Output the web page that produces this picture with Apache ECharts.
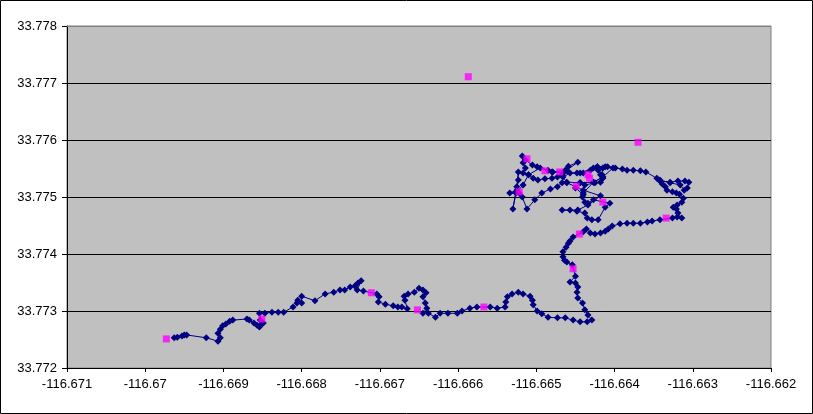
<!DOCTYPE html>
<html>
<head>
<meta charset="utf-8">
<script src="https://cdn.jsdelivr.net/npm/echarts@6/dist/echarts.min.js"></script>
<style>
html,body{margin:0;padding:0;background:#fff;}
#chart{width:813px;height:414px;}
</style>
</head>
<body>
<div id="chart"></div>
<script>
// X axis (longitude) ticks and Y axis (latitude) ticks
const xTicks = [-116.671, -116.670, -116.669, -116.668, -116.667, -116.666, -116.665, -116.664, -116.663, -116.662];
const yTicks = [33.772, 33.773, 33.774, 33.775, 33.776, 33.777, 33.778];

// GPS track (navy line with diamond markers)
const trackLon = [
-116.66963,-116.66959,-116.66953,-116.66950,-116.66947,-116.66922,-116.66907,-116.66904,-116.66907,-116.66904,
-116.66901,-116.66897,-116.66892,-116.66888,-116.66870,-116.66867,-116.66861,-116.66857,-116.66854,-116.66851,
-116.66849,-116.66853,-116.66854,-116.66847,-116.66838,-116.66830,-116.66823,-116.66811,-116.66806,-116.66805,
-116.66800,-116.66800,-116.66783,-116.66770,-116.66759,-116.66751,-116.66745,-116.66738,-116.66732,-116.66728,
-116.66724,-116.66729,-116.66721,-116.66704,-116.66701,-116.66702,-116.66693,-116.66683,-116.66677,-116.66672,
-116.66665,-116.66668,-116.66669,-116.66664,-116.66656,-116.66650,-116.66645,-116.66641,-116.66645,-116.66642,
-116.66640,-116.66645,-116.66638,-116.66629,-116.66623,-116.66613,-116.66601,-116.66595,-116.66585,-116.66576,
-116.66559,-116.66550,-116.66540,-116.66539,-116.66537,-116.66531,-116.66523,-116.66517,-116.66508,-116.66505,
-116.66504,-116.66499,-116.66493,-116.66485,-116.66473,-116.66463,-116.66453,-116.66444,-116.66435,-116.66429,
-116.66434,-116.66438,-116.66441,-116.66447,-116.66448,-116.66447,-116.66450,-116.66457,-116.66450,-116.66454,
-116.66461,-116.66464,-116.66466,-116.66466,-116.66462,-116.66459,-116.66457,-116.66453,-116.66440,-116.66436,
-116.66431,-116.66425,-116.66418,-116.66412,-116.66408,-116.66403,-116.66393,-116.66384,-116.66376,-116.66367,
-116.66358,-116.66352,-116.66342,-116.66326,-116.66320,-116.66314,-116.66319,-116.66321,-116.66325,-116.66320,
-116.66314,-116.66312,-116.66317,-116.66321,-116.66326,-116.66333,-116.66335,-116.66339,-116.66342,-116.66329,
-116.66319,-116.66310,-116.66305,-116.66307,-116.66311,-116.66316,-116.66329,-116.66342,-116.66346,-116.66360,
-116.66367,-116.66376,-116.66384,-116.66390,-116.66399,-116.66409,-116.66415,-116.66421,-116.66416,-116.66415,
-116.66418,-116.66425,-116.66438,-116.66444,-116.66461,-116.66466,-116.66457,-116.66444,-116.66427,-116.66422,
-116.66412,-116.66418,-116.66415,-116.66427,-116.66440,-116.66441,-116.66438,-116.66434,-116.66427,-116.66406,
-116.66412,-116.66421,-116.66429,-116.66435,-116.66438,-116.66448,-116.66457,-116.66467,-116.66447,-116.66434,
-116.66418,-116.66440,-116.66461,-116.66467,-116.66473,-116.66482,-116.66493,-116.66502,-116.66512,-116.66518,
-116.66522,-116.66534,-116.66525,-116.66523,-116.66523,-116.66525,-116.66530,-116.66526,-116.66517,-116.66510,
-116.66517,-116.66514,-116.66517,-116.66518,-116.66514,-116.66505,-116.66499,-116.66485,-116.66480,-116.66463,
-116.66459,-116.66447,-116.66461,-116.66467,-116.66473,-116.66480,-116.66489,-116.66498,-116.66504,-116.66510,
-116.66495,-116.66479,-116.66466,-116.66448,-116.66440,-116.66431,-116.66422,-116.66402,-116.66415,-116.66427,
-116.66444,-116.66450,-116.66440
];
const trackLat = [
33.77253,33.77254,33.77256,33.77258,33.77258,33.77253,33.77247,33.77253,33.77261,33.77268,
33.77274,33.77277,33.77282,33.77284,33.77286,33.77284,33.77279,33.77275,33.77272,33.77277,
33.77279,33.77284,33.77296,33.77296,33.77298,33.77298,33.77298,33.77307,33.77314,33.77319,
33.77314,33.77326,33.77318,33.77330,33.77333,33.77337,33.77337,33.77342,33.77344,33.77349,
33.77353,33.77337,33.77335,33.77330,33.77325,33.77316,33.77312,33.77309,33.77307,33.77307,
33.77304,33.77319,33.77326,33.77330,33.77333,33.77340,33.77337,33.77332,33.77325,33.77314,
33.77305,33.77296,33.77296,33.77289,33.77296,33.77296,33.77296,33.77300,33.77305,33.77307,
33.77307,33.77305,33.77307,33.77316,33.77325,33.77330,33.77333,33.77330,33.77326,33.77319,
33.77311,33.77300,33.77295,33.77289,33.77288,33.77288,33.77284,33.77281,33.77281,33.77284,
33.77293,33.77302,33.77314,33.77323,33.77333,33.77342,33.77349,33.77351,33.77361,33.77381,
33.77386,33.77389,33.77395,33.77404,33.77412,33.77419,33.77423,33.77430,33.77439,33.77444,
33.77437,33.77435,33.77437,33.77440,33.77444,33.77449,33.77453,33.77454,33.77454,33.77454,
33.77456,33.77458,33.77460,33.77463,33.77465,33.77463,33.77472,33.77479,33.77482,33.77486,
33.77491,33.77498,33.77505,33.77507,33.77509,33.77512,33.77518,33.77523,33.77528,33.77526,
33.77528,33.77528,33.77526,33.77516,33.77512,33.77521,33.77525,33.77530,33.77533,33.77544,
33.77546,33.77547,33.77547,33.77549,33.77551,33.77553,33.77551,33.77547,33.77539,33.77533,
33.77526,33.77525,33.77521,33.77525,33.77526,33.77535,33.77542,33.77542,33.77551,33.77553,
33.77553,33.77539,33.77535,33.77526,33.77507,33.77500,33.77491,33.77489,33.77495,33.77489,
33.77482,33.77460,33.77460,33.77463,33.77472,33.77475,33.77477,33.77477,33.77477,33.77486,
33.77502,33.77512,33.77525,33.77525,33.77518,33.77514,33.77507,33.77495,33.77479,33.77500,
33.77507,33.77507,33.77512,33.77530,33.77544,33.77518,33.77479,33.77507,33.77521,33.77539,
33.77542,33.77551,33.77560,33.77572,33.77565,33.77556,33.77553,33.77547,33.77544,33.77547,
33.77554,33.77561,33.77547,33.77539,33.77535,33.77533,33.77532,33.77530,33.77533,33.77539,
33.77551,33.77544,33.77542,33.77542,33.77542,33.77547,33.77553,33.77551,33.77535,33.77526,
33.77525,33.77516,33.77504
];

// Waypoints (magenta squares)
const wayLon = [-116.66973,-116.66851,-116.66711,-116.66652,-116.66567,-116.66453,-116.66445,-116.66334,-116.66415,
-116.66449,-116.66432,-116.66434,-116.66470,-116.66489,-116.66512,-116.66522,-116.66587,-116.66370];
const wayLat = [33.77251,33.77286,33.77332,33.77302,33.77307,33.77374,33.77435,33.77463,33.77491,
33.77519,33.77533,33.77539,33.77544,33.77546,33.77567,33.77509,33.77711,33.77596];

const trackData = trackLon.map((x, i) => [x, trackLat[i]]);
const wayData = wayLon.map((x, i) => [x, wayLat[i]]);

const chart = echarts.init(document.getElementById('chart'), null, {renderer: 'canvas'});
const font = {fontFamily: 'Liberation Sans, Arial, sans-serif', fontSize: 13, color: '#000'};
chart.setOption({
  animation: false,
  backgroundColor: '#fff',
  graphic: [{
    type: 'rect', silent: true, z: 100,
    shape: {x: 0.5, y: 0.5, width: 812, height: 413},
    style: {fill: 'none', stroke: '#000', lineWidth: 1}
  }, {
    type: 'line', silent: true, z: 100,
    shape: {x1: 67, y1: 26.5, x2: 771, y2: 26.5},
    style: {stroke: '#808080', lineWidth: 1}
  }],
  grid: {
    left: 67, right: 42, top: 26, bottom: 46,
    show: true, backgroundColor: '#C0C0C0', borderColor: '#808080', borderWidth: 1
  },
  xAxis: {
    type: 'value',
    min: xTicks[0], max: xTicks[xTicks.length - 1], interval: 0.001,
    axisLine: {show: true, onZero: false, lineStyle: {color: '#000', width: 1}},
    axisTick: {show: true, inside: false, length: 4, lineStyle: {color: '#000'}},
    axisLabel: Object.assign({margin: 10, formatter: v => String(+(+v).toFixed(3))}, font),
    splitLine: {show: false}
  },
  yAxis: {
    type: 'value',
    min: yTicks[0], max: yTicks[yTicks.length - 1], interval: 0.001,
    axisLine: {show: true, onZero: false, lineStyle: {color: '#000', width: 1}},
    axisTick: {show: true, inside: false, length: 5, lineStyle: {color: '#000'}},
    axisLabel: Object.assign({margin: 10, formatter: v => (+v).toFixed(3)}, font),
    splitLine: {show: true, lineStyle: {color: '#000', width: 1}}
  },
  series: [{
    type: 'line',
    data: trackData,
    symbol: 'diamond',
    symbolSize: 7,
    showAllSymbol: true,
    lineStyle: {color: '#000080', width: 1},
    itemStyle: {color: '#000080'},
    z: 2
  }, {
    type: 'scatter',
    data: wayData,
    symbol: 'rect',
    symbolSize: 7,
    itemStyle: {color: '#FF00FF'},
    z: 3
  }]
});
</script>
</body>
</html>
